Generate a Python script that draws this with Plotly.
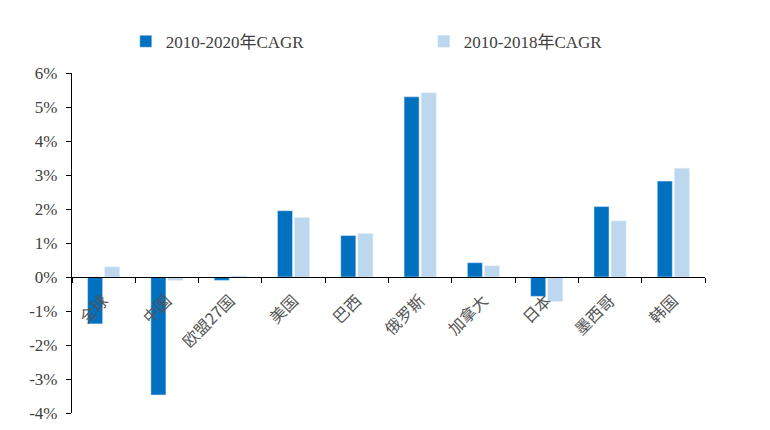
import plotly.graph_objects as go

categories = ["全球", "中国", "欧盟27国", "美国", "巴西", "俄罗斯", "加拿大", "日本", "墨西哥", "韩国"]
cagr_2010_2020 = [-1.38, -3.47, -0.10, 1.95, 1.22, 5.30, 0.42, -0.57, 2.07, 2.82]
cagr_2010_2018 = [0.30, -0.10, 0.03, 1.75, 1.28, 5.42, 0.33, -0.72, 1.65, 3.20]
series_names = ["2010-2020年CAGR", "2010-2018年CAGR"]
y_ticks = [-4, -3, -2, -1, 0, 1, 2, 3, 4, 5, 6]

FONT = "Liberation Serif, Times New Roman, Noto Sans CJK SC, serif"
TXT = "#404040"

fig = go.Figure()
fig.add_trace(go.Bar(x=categories, y=cagr_2010_2020, name=series_names[0], marker_color="#0070C0"))
fig.add_trace(go.Bar(x=categories, y=cagr_2010_2018, name=series_names[1], marker_color="#BDD7EE"))

fig.update_layout(
    width=770, height=430,
    margin=dict(l=64, r=73, t=65, b=25, autoexpand=False),
    plot_bgcolor="white", paper_bgcolor="white",
    barmode="group", bargap=0.46, bargroupgap=0.12,
    font=dict(family=FONT, color=TXT, size=15),
    legend=dict(orientation="h", x=0.085, y=1.092, xanchor="left", yanchor="middle",
                entrywidth=253, entrywidthmode="pixels", font=dict(size=17, family=FONT, color=TXT),
                itemwidth=30, traceorder="normal"),
    xaxis=dict(anchor="free", position=0.4, showline=True, linecolor="black", linewidth=1.2,
               ticks="outside", tickson="boundaries", ticklen=5, tickcolor="black",
               tickangle=-45, ticklabelstandoff=7,
               tickfont=dict(size=16, family="Noto Sans CJK SC", color="#555555"),
               showgrid=False, zeroline=False),
    yaxis=dict(range=[-4, 6], tickvals=y_ticks, ticktext=[f"{v}%" for v in y_ticks],
               showline=True, linecolor="black", linewidth=1.2, ticks="outside", ticklen=5,
               tickcolor="black", showgrid=False, zeroline=False, ticklabelstandoff=5,
               tickfont=dict(size=17, family=FONT, color=TXT)),
)

fig.write_html("out.html")
